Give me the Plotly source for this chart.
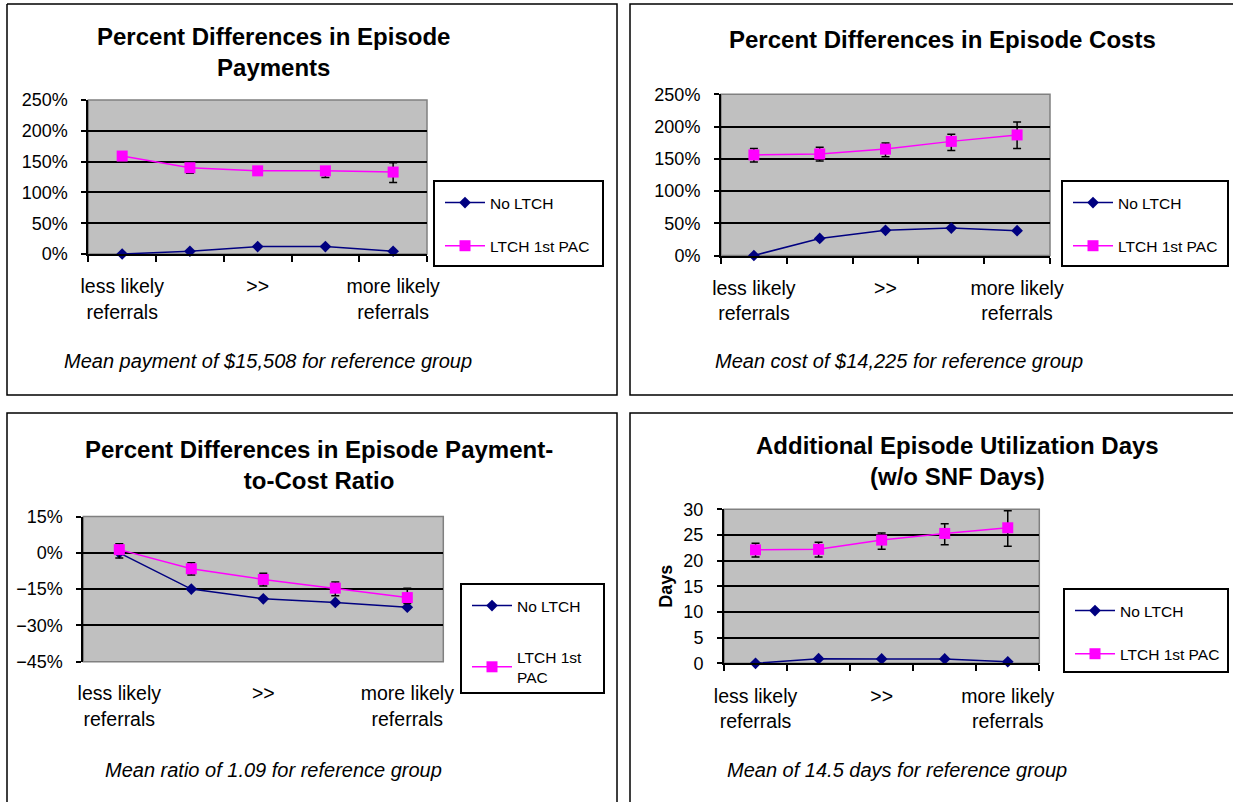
import plotly.graph_objects as go

W, H = 1233, 802
FONT = "Liberation Sans, Arial, sans-serif"

# ---------------- data ----------------
groups = [1, 2, 3, 4, 5]
x_tick_pos = [1, 3, 5]
x_tick_text = ["less likely<br>referrals", ">>", "more likely<br>referrals"]
boundaries = [0.5, 1.5, 2.5, 3.5, 4.5, 5.5]

# Panel 1: Episode payments (% difference)
pay_no_ltch = [0, 4.5, 12, 12, 4.5]
pay_ltch = [159, 140, 135, 135, 133]
pay_ltch_err_plus = [3, 5, 3, 5, 15]
pay_ltch_err_minus = [3, 9, 3, 11, 17]

# Panel 2: Episode costs (% difference)
cost_no_ltch = [0, 26.5, 39, 42.5, 38.5]
cost_ltch = [156, 157.5, 165, 177, 187]
cost_ltch_err_plus = [10, 10.5, 9.5, 11, 20]
cost_ltch_err_minus = [11, 11, 12, 14, 21]

# Panel 3: Payment-to-cost ratio (% difference)
ratio_no_ltch = [0, -15, -19, -20.5, -22.5]
ratio_ltch = [1.3, -6.6, -11, -14.6, -18.5]
ratio_ltch_err_plus = [2.4, 2.5, 2.5, 2.5, 3.8]
ratio_ltch_err_minus = [3.4, 2.6, 2.7, 3.1, 2.5]

# Panel 4: Additional utilization days
days_no_ltch = [0, 0.9, 0.85, 0.85, 0.3]
days_ltch = [22.1, 22.2, 24.0, 25.3, 26.4]
days_ltch_err_plus = [1.3, 1.4, 1.4, 1.9, 3.3]
days_ltch_err_minus = [1.4, 1.5, 1.8, 2.2, 3.6]

titles = [
    "Percent Differences in Episode<br>Payments",
    "Percent Differences in Episode Costs",
    "Percent Differences in Episode Payment-<br>to-Cost Ratio",
    "Additional Episode Utilization Days<br>(w/o SNF Days)",
]
notes = [
    "Mean payment of $15,508 for reference group",
    "Mean cost of $14,225 for reference group",
    "Mean ratio of 1.09 for reference group",
    "Mean of 14.5 days for reference group",
]
y_ranges = [[0, 250], [0, 250], [-45, 15], [0, 30]]
y_dticks = [50, 50, 15, 5]
y_suffix = ["%", "%", "%", ""]
ltch_names = ["LTCH 1st PAC", "LTCH 1st PAC", "LTCH 1st<br>PAC", "LTCH 1st PAC"]

no_ltch_series = [pay_no_ltch, cost_no_ltch, ratio_no_ltch, days_no_ltch]
ltch_series = [pay_ltch, cost_ltch, ratio_ltch, days_ltch]
err_plus = [pay_ltch_err_plus, cost_ltch_err_plus, ratio_ltch_err_plus, days_ltch_err_plus]
err_minus = [pay_ltch_err_minus, cost_ltch_err_minus, ratio_ltch_err_minus, days_ltch_err_minus]

# ---------------- layout geometry (pixels) ----------------
plot_boxes = [  # x0, y0, x1, y1
    (88.3, 100, 427, 254),
    (721, 94.3, 1050, 255.5),
    (83.3, 516.5, 443.3, 661.7),
    (724, 509.3, 1039.3, 663.3),
]
# panel frames as polylines (right/bottom panels run off the page edge)
frame_paths = [
    [(7, 4), (617, 4), (617, 395), (7, 395), (7, 4)],
    [(1233, 4), (630, 4), (630, 395), (1233, 395)],
    [(7, 802), (7, 413), (617, 413), (617, 802)],
    [(630, 802), (630, 413), (1233, 413)],
]
title_xy = [(273, 52.5), (942, 39), (319, 465), (957, 461)]
note_xy = [(267.5, 361), (899, 361), (273, 770), (897, 770)]
legend_boxes = [(434, 181, 603, 266), (1062, 181, 1228, 266), (461, 584, 604, 693), (1064, 589, 1228, 672)]
legend_gaps = [20, 20, 28, 20]
x_label_standoff = [14, 14, 18, 14]


def fx(px):
    return px / W


def fy(py):
    return 1 - py / H


NAVY = "#000080"
MAGENTA = "#FF00FF"
GRAYBG = "#C0C0C0"

fig = go.Figure()
layout = dict(
    width=W, height=H, margin=dict(l=0, r=0, t=0, b=0, autoexpand=False),
    paper_bgcolor="white", plot_bgcolor=GRAYBG,
    font=dict(family=FONT, color="black"),
    showlegend=True,
)
shapes = []
annotations = []

for pts in frame_paths:
    d = "M " + " L ".join("%.5f,%.5f" % (fx(px), fy(py)) for px, py in pts)
    shapes.append(dict(type="path", xref="paper", yref="paper", path=d,
                       line=dict(color="black", width=1.5), layer="below"))

for i in range(4):
    n = i + 1
    xs = "" if n == 1 else str(n)
    xname, yname = "x" + xs, "y" + xs
    legname = "legend" + xs
    x0, y0, x1, y1 = plot_boxes[i]

    fig.add_trace(go.Scatter(
        x=groups, y=no_ltch_series[i], name="No LTCH", mode="lines+markers",
        line=dict(color=NAVY, width=1.5),
        marker=dict(symbol="diamond", size=9, color=NAVY),
        xaxis=xname, yaxis=yname, legend=legname, legendgroup="a%d" % n,
        cliponaxis=False,
    ))
    fig.add_trace(go.Scatter(
        x=groups, y=ltch_series[i], name=ltch_names[i], mode="lines+markers",
        line=dict(color=MAGENTA, width=1.5),
        marker=dict(symbol="square", size=11, color=MAGENTA),
        error_y=dict(type="data", symmetric=False, array=err_plus[i], arrayminus=err_minus[i],
                     color="black", thickness=1.5, width=4),
        xaxis=xname, yaxis=yname, legend=legname, legendgroup="b%d" % n,
        cliponaxis=False,
    ))

    xa = dict(
        domain=[fx(x0), fx(x1)], anchor=yname, range=[0.5, 5.5], automargin=False,
        tickmode="array", tickvals=x_tick_pos, ticktext=x_tick_text,
        ticks="", ticklabelstandoff=x_label_standoff[i],
        tickfont=dict(size=19.5, family=FONT, color="black"),
        showgrid=False, zeroline=False,
        showline=(n != 3), linecolor="black", linewidth=2,
        minor=dict(tickmode="array", tickvals=boundaries, ticks="outside", ticklen=6,
                   tickcolor="black", tickwidth=1.5, showgrid=False),
    )
    ya = dict(
        domain=[fy(y1), fy(y0)], anchor=xname, range=y_ranges[i], automargin=False,
        dtick=y_dticks[i], tick0=0, ticksuffix=y_suffix[i],
        ticks="outside", ticklen=5, tickcolor="black", tickwidth=1.5,
        ticklabelstandoff=10,
        tickfont=dict(size=18, family=FONT, color="black"),
        showgrid=True, gridcolor="black", gridwidth=1.5, zeroline=False,
        showline=True, linecolor="black", linewidth=2,
    )
    if n == 3:
        xa["minor"] = dict(ticks="")
    if n == 4:
        ya["title"] = dict(text="<b>Days</b>", font=dict(size=18, family=FONT), standoff=6)
    layout["xaxis" + xs] = xa
    layout["yaxis" + xs] = ya

    lb = legend_boxes[i]
    layout[legname] = dict(
        x=fx(lb[0] + 6), y=fy(lb[1] + 5), xanchor="left", yanchor="top",
        bgcolor="rgba(0,0,0,0)", borderwidth=0,
        font=dict(size=15.5, family=FONT, color="black"),
        itemwidth=40, traceorder="grouped", tracegroupgap=legend_gaps[i],
    )
    shapes.append(dict(type="rect", xref="paper", yref="paper",
                       x0=fx(lb[0]), x1=fx(lb[2]), y0=fy(lb[3]), y1=fy(lb[1]),
                       line=dict(color="black", width=2), fillcolor="white", layer="below"))
    # plot-area border
    shapes.append(dict(type="rect", xref=xname + " domain", yref=yname + " domain",
                       x0=0, x1=1, y0=0, y1=1, line=dict(color="#808080", width=1.5),
                       layer="below"))

    tx, ty = title_xy[i]
    annotations.append(dict(text="<b>%s</b>" % titles[i], x=fx(tx), y=fy(ty),
                            xref="paper", yref="paper", showarrow=False,
                            xanchor="center", yanchor="middle",
                            font=dict(size=24, family=FONT, color="black")))
    nx, ny = note_xy[i]
    annotations.append(dict(text="<i>%s</i>" % notes[i], x=fx(nx), y=fy(ny),
                            xref="paper", yref="paper", showarrow=False,
                            xanchor="center", yanchor="middle",
                            font=dict(size=20, family=FONT, color="black")))

# category axis crossing at 0% in the ratio panel
r3 = y_ranges[2]
dom3 = layout["yaxis3"]["domain"]
zero_pos = dom3[0] + (0 - r3[0]) / (r3[1] - r3[0]) * (dom3[1] - dom3[0])
layout["xaxis5"] = dict(
    overlaying="x3", anchor="free", position=zero_pos, range=[0.5, 5.5], automargin=False,
    tickmode="array", tickvals=boundaries, ticks="outside", ticklen=6,
    tickcolor="black", tickwidth=1.5, showticklabels=False,
    showgrid=False, zeroline=False, showline=True, linecolor="black", linewidth=2,
)

layout["shapes"] = shapes
layout["annotations"] = annotations
fig.update_layout(**layout)
fig.write_html("out.html", config={"displayModeBar": False},
               post_script="document.body.style.margin='0px';")
